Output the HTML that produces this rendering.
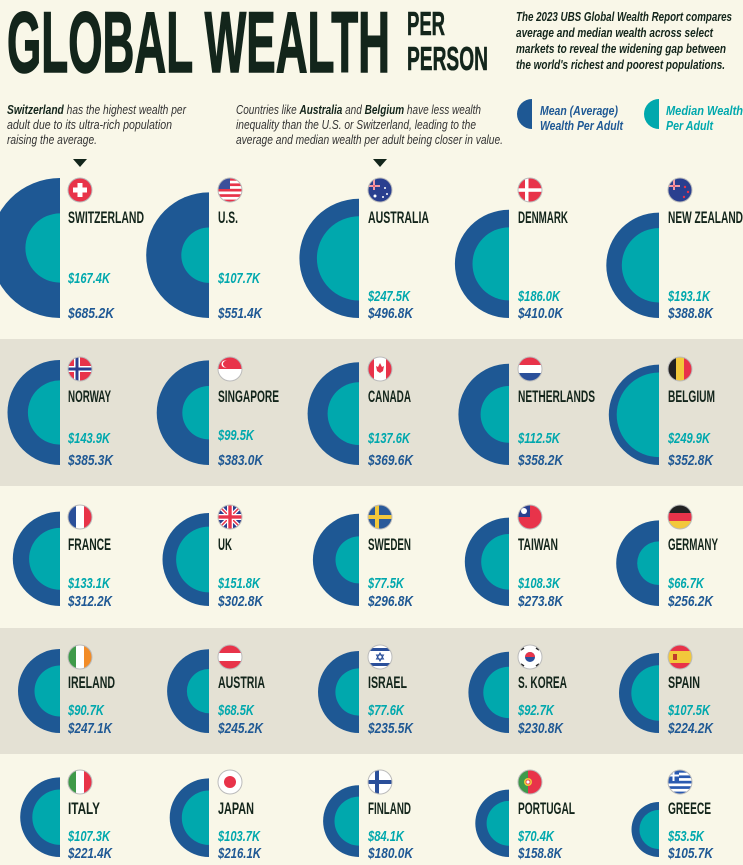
<!DOCTYPE html>
<html><head><meta charset="utf-8"><style>
html,body{margin:0;padding:0;background:#f9f7e8;}
svg{display:block;}
text{font-family:"Liberation Sans",sans-serif;}
.n{font-weight:bold;font-size:17px;fill:#13251b;}
.m{font-weight:bold;font-style:italic;font-size:15px;fill:#1e5894;}
.d{font-weight:bold;font-style:italic;font-size:15px;fill:#00a8ad;}
.o{fill:#1e5894;}.i{fill:#00a8ad;}
.fo{fill:none;stroke:#bbb;stroke-width:1;}
</style></head><body>
<svg width="743" height="865" viewBox="0 0 743 865" xmlns="http://www.w3.org/2000/svg">
<defs><clipPath id="f"><circle r="12"/></clipPath></defs>
<rect width="743" height="865" fill="#f9f7e8"/>
<rect y="339" width="743" height="147" fill="#e4e1d4"/>
<rect y="628" width="743" height="126" fill="#e4e1d4"/>

<text x="7" y="72" font-size="86" font-weight="bold" fill="#13251b" stroke="#13251b" stroke-width="1.5" textLength="383" lengthAdjust="spacingAndGlyphs">GLOBAL WEALTH</text>
<text x="407" y="35" font-size="33" font-weight="bold" fill="#13251b" stroke="#13251b" stroke-width="0.6" textLength="38" lengthAdjust="spacingAndGlyphs">PER</text>
<text x="407" y="70" font-size="33" font-weight="bold" fill="#13251b" stroke="#13251b" stroke-width="0.6" textLength="81" lengthAdjust="spacingAndGlyphs">PERSON</text>
<g font-size="13" font-weight="bold" font-style="italic" fill="#13251b">
<text x="516" y="21" textLength="216" lengthAdjust="spacingAndGlyphs">The 2023 UBS Global Wealth Report compares</text>
<text x="516" y="37" textLength="197" lengthAdjust="spacingAndGlyphs">average and median wealth across select</text>
<text x="516" y="53" textLength="210" lengthAdjust="spacingAndGlyphs">markets to reveal the widening gap between</text>
<text x="516" y="69" textLength="209" lengthAdjust="spacingAndGlyphs">the world's richest and poorest populations.</text>
</g>
<g font-size="13" fill="#333" font-style="italic">
<text x="7" y="114" textLength="179" lengthAdjust="spacingAndGlyphs"><tspan font-weight="bold" fill="#13251b">Switzerland</tspan> has the highest wealth per</text>
<text x="7" y="129" textLength="165" lengthAdjust="spacingAndGlyphs">adult due to its ultra-rich population</text>
<text x="7" y="144" textLength="90" lengthAdjust="spacingAndGlyphs">raising the average.</text>
<text x="236" y="114" textLength="245" lengthAdjust="spacingAndGlyphs">Countries like <tspan font-weight="bold" fill="#13251b">Australia</tspan> and <tspan font-weight="bold" fill="#13251b">Belgium</tspan> have less wealth</text>
<text x="236" y="129" textLength="240" lengthAdjust="spacingAndGlyphs">inequality than the U.S. or Switzerland, leading to the</text>
<text x="236" y="144" textLength="267" lengthAdjust="spacingAndGlyphs">average and median wealth per adult being closer in value.</text>
</g>
<path d="M532,99 A15,15 0 0 0 532,129 Z" class="o"/>
<path d="M659,99 A15,15 0 0 0 659,129 Z" class="i"/>
<g font-size="13" font-weight="bold" font-style="italic">
<text x="540" y="115" fill="#1e5894" textLength="78" lengthAdjust="spacingAndGlyphs">Mean (Average)</text>
<text x="540" y="130" fill="#1e5894" textLength="83" lengthAdjust="spacingAndGlyphs">Wealth Per Adult</text>
<text x="666" y="115" fill="#00a8ad" textLength="77" lengthAdjust="spacingAndGlyphs">Median Wealth</text>
<text x="666" y="130" fill="#00a8ad" textLength="47" lengthAdjust="spacingAndGlyphs">Per Adult</text>
</g>
<path d="M73,159 L87,159 L80,167 Z" fill="#13251b"/>
<path d="M373,159 L387,159 L380,167 Z" fill="#13251b"/>

<g transform="translate(60,318)"><path class="o" d="M0,-140 A70,70 0 0 0 0,0 Z"/><path class="i" d="M0,-104.6 A34.6,34.6 0 0 0 0,-35.4 Z"/></g>
<g transform="translate(209,318)"><path class="o" d="M0,-125.6 A62.8,62.8 0 0 0 0,0 Z"/><path class="i" d="M0,-90.5 A27.7,27.7 0 0 0 0,-35.1 Z"/></g>
<g transform="translate(359,318)"><path class="o" d="M0,-119.2 A59.6,59.6 0 0 0 0,0 Z"/><path class="i" d="M0,-101.7 A42.1,42.1 0 0 0 0,-17.5 Z"/></g>
<g transform="translate(509,318)"><path class="o" d="M0,-108.2 A54.1,54.1 0 0 0 0,0 Z"/><path class="i" d="M0,-90.6 A36.5,36.5 0 0 0 0,-17.6 Z"/></g>
<g transform="translate(659,318)"><path class="o" d="M0,-105.4 A52.7,52.7 0 0 0 0,0 Z"/><path class="i" d="M0,-89.9 A37.2,37.2 0 0 0 0,-15.5 Z"/></g>

<g transform="translate(60,465)"><path class="o" d="M0,-105 A52.5,52.5 0 0 0 0,0 Z"/><path class="i" d="M0,-84.6 A32.1,32.1 0 0 0 0,-20.4 Z"/></g>
<g transform="translate(209,465)"><path class="o" d="M0,-104.6 A52.3,52.3 0 0 0 0,0 Z"/><path class="i" d="M0,-79 A26.7,26.7 0 0 0 0,-25.6 Z"/></g>
<g transform="translate(359,465)"><path class="o" d="M0,-102.8 A51.4,51.4 0 0 0 0,0 Z"/><path class="i" d="M0,-82.8 A31.4,31.4 0 0 0 0,-20 Z"/></g>
<g transform="translate(509,465)"><path class="o" d="M0,-101.2 A50.6,50.6 0 0 0 0,0 Z"/><path class="i" d="M0,-79 A28.4,28.4 0 0 0 0,-22.2 Z"/></g>
<g transform="translate(659,465)"><path class="o" d="M0,-100.4 A50.2,50.2 0 0 0 0,0 Z"/><path class="i" d="M0,-92.5 A42.3,42.3 0 0 0 0,-7.9 Z"/></g>

<g transform="translate(60,606)"><path class="o" d="M0,-94.4 A47.2,47.2 0 0 0 0,0 Z"/><path class="i" d="M0,-78.1 A30.9,30.9 0 0 0 0,-16.3 Z"/></g>
<g transform="translate(209,606)"><path class="o" d="M0,-93 A46.5,46.5 0 0 0 0,0 Z"/><path class="i" d="M0,-79.4 A32.9,32.9 0 0 0 0,-13.6 Z"/></g>
<g transform="translate(359,606)"><path class="o" d="M0,-92.2 A46.1,46.1 0 0 0 0,0 Z"/><path class="i" d="M0,-69.6 A23.5,23.5 0 0 0 0,-22.6 Z"/></g>
<g transform="translate(509,606)"><path class="o" d="M0,-88.4 A44.2,44.2 0 0 0 0,0 Z"/><path class="i" d="M0,-72 A27.8,27.8 0 0 0 0,-16.4 Z"/></g>
<g transform="translate(659,606)"><path class="o" d="M0,-85.6 A42.8,42.8 0 0 0 0,0 Z"/><path class="i" d="M0,-64.6 A21.8,21.8 0 0 0 0,-21 Z"/></g>

<g transform="translate(60,733)"><path class="o" d="M0,-84 A42,42 0 0 0 0,0 Z"/><path class="i" d="M0,-67.5 A25.5,25.5 0 0 0 0,-16.5 Z"/></g>
<g transform="translate(209,733)"><path class="o" d="M0,-83.8 A41.9,41.9 0 0 0 0,0 Z"/><path class="i" d="M0,-64 A22.1,22.1 0 0 0 0,-19.8 Z"/></g>
<g transform="translate(359,733)"><path class="o" d="M0,-82 A41,41 0 0 0 0,0 Z"/><path class="i" d="M0,-64.6 A23.6,23.6 0 0 0 0,-17.4 Z"/></g>
<g transform="translate(509,733)"><path class="o" d="M0,-81.2 A40.6,40.6 0 0 0 0,0 Z"/><path class="i" d="M0,-66.3 A25.7,25.7 0 0 0 0,-14.9 Z"/></g>
<g transform="translate(659,733)"><path class="o" d="M0,-80 A40,40 0 0 0 0,0 Z"/><path class="i" d="M0,-67.7 A27.7,27.7 0 0 0 0,-12.3 Z"/></g>

<g transform="translate(60,857)"><path class="o" d="M0,-79.6 A39.8,39.8 0 0 0 0,0 Z"/><path class="i" d="M0,-67.5 A27.7,27.7 0 0 0 0,-12.1 Z"/></g>
<g transform="translate(209,857)"><path class="o" d="M0,-78.6 A39.3,39.3 0 0 0 0,0 Z"/><path class="i" d="M0,-66.5 A27.2,27.2 0 0 0 0,-12.1 Z"/></g>
<g transform="translate(359,857)"><path class="o" d="M0,-71.8 A35.9,35.9 0 0 0 0,0 Z"/><path class="i" d="M0,-60.4 A24.5,24.5 0 0 0 0,-11.4 Z"/></g>
<g transform="translate(509,857)"><path class="o" d="M0,-67.4 A33.7,33.7 0 0 0 0,0 Z"/><path class="i" d="M0,-56.1 A22.4,22.4 0 0 0 0,-11.3 Z"/></g>
<g transform="translate(659,857)"><path class="o" d="M0,-55 A27.5,27.5 0 0 0 0,0 Z"/><path class="i" d="M0,-47.1 A19.6,19.6 0 0 0 0,-7.9 Z"/></g>

<g transform="translate(80,190)"><g clip-path="url(#f)"><rect x="-12" y="-12" width="24" height="24" fill="#e8334a"/><rect x="-2.5" y="-7" width="5" height="14" fill="#fff"/><rect x="-7" y="-2.5" width="14" height="5" fill="#fff"/></g><circle r="12" class="fo"/></g>
<g transform="translate(230,190)"><g clip-path="url(#f)"><rect x="-12" y="-12" width="24" height="24" fill="#fff"/><rect x="-12" y="-12" width="24" height="2.7" fill="#e8334a"/><rect x="-12" y="-6.6" width="24" height="2.7" fill="#e8334a"/><rect x="-12" y="-1.2" width="24" height="2.7" fill="#e8334a"/><rect x="-12" y="4.2" width="24" height="2.7" fill="#e8334a"/><rect x="-12" y="9.6" width="24" height="2.7" fill="#e8334a"/><rect x="-12" y="-12" width="12" height="11" fill="#3c4f9a"/></g><circle r="12" class="fo"/></g>
<g transform="translate(380,190)"><g clip-path="url(#f)"><rect x="-12" y="-12" width="24" height="24" fill="#2a3f8f"/><rect x="-12" y="-5" width="12" height="2" fill="#fff"/><rect x="-7" y="-12" width="2" height="12" fill="#fff"/><rect x="-12" y="-4.5" width="12" height="1" fill="#e8334a"/><rect x="-6.5" y="-12" width="1" height="12" fill="#e8334a"/><circle cx="5" cy="-2" r="1" fill="#fff"/><circle cx="7" cy="4" r="1" fill="#fff"/><circle cx="3" cy="7" r="1" fill="#fff"/><circle cx="-5" cy="6" r="1.5" fill="#fff"/></g><circle r="12" class="fo"/></g>
<g transform="translate(530,190)"><g clip-path="url(#f)"><rect x="-12" y="-12" width="24" height="24" fill="#e8334a"/><rect x="-5" y="-12" width="3.5" height="24" fill="#fff"/><rect x="-12" y="-1.7" width="24" height="3.5" fill="#fff"/></g><circle r="12" class="fo"/></g>
<g transform="translate(680,190)"><g clip-path="url(#f)"><rect x="-12" y="-12" width="24" height="24" fill="#2a3f8f"/><rect x="-12" y="-5" width="12" height="2" fill="#fff"/><rect x="-7" y="-12" width="2" height="12" fill="#fff"/><rect x="-12" y="-4.5" width="12" height="1" fill="#e8334a"/><rect x="-6.5" y="-12" width="1" height="12" fill="#e8334a"/><circle cx="5" cy="-3" r="1.2" fill="#e8334a"/><circle cx="8" cy="2" r="1.2" fill="#e8334a"/><circle cx="4" cy="7" r="1.2" fill="#e8334a"/></g><circle r="12" class="fo"/></g>

<g transform="translate(80,369)"><g clip-path="url(#f)"><rect x="-12" y="-12" width="24" height="24" fill="#e8334a"/><rect x="-6" y="-12" width="6" height="24" fill="#fff"/><rect x="-12" y="-3" width="24" height="6" fill="#fff"/><rect x="-4.5" y="-12" width="3" height="24" fill="#2a3f8f"/><rect x="-12" y="-1.5" width="24" height="3" fill="#2a3f8f"/></g><circle r="12" class="fo"/></g>
<g transform="translate(230,369)"><g clip-path="url(#f)"><rect x="-12" y="-12" width="24" height="24" fill="#fff"/><rect x="-12" y="-12" width="24" height="12" fill="#e8334a"/><circle cx="-5" cy="-5" r="3.5" fill="#fff"/><circle cx="-3.8" cy="-5" r="3.2" fill="#e8334a"/></g><circle r="12" class="fo"/></g>
<g transform="translate(380,369)"><g clip-path="url(#f)"><rect x="-12" y="-12" width="24" height="24" fill="#fff"/><rect x="-12" y="-12" width="6" height="24" fill="#e8334a"/><rect x="6" y="-12" width="6" height="24" fill="#e8334a"/><path d="M0,-6 L2,-2 L4,-3 L3,2 L0,4 L-3,2 L-4,-3 L-2,-2 Z" fill="#e8334a"/></g><circle r="12" class="fo"/></g>
<g transform="translate(530,369)"><g clip-path="url(#f)"><rect x="-12" y="-12" width="24" height="8" fill="#e8334a"/><rect x="-12" y="-4" width="24" height="8" fill="#fff"/><rect x="-12" y="4" width="24" height="8" fill="#2a4f9a"/></g><circle r="12" class="fo"/></g>
<g transform="translate(680,369)"><g clip-path="url(#f)"><rect x="-12" y="-12" width="8" height="24" fill="#222"/><rect x="-4" y="-12" width="8" height="24" fill="#f2c83b"/><rect x="4" y="-12" width="8" height="24" fill="#e8334a"/></g><circle r="12" class="fo"/></g>

<g transform="translate(80,517)"><g clip-path="url(#f)"><rect x="-12" y="-12" width="8" height="24" fill="#2a4f9a"/><rect x="-4" y="-12" width="8" height="24" fill="#fff"/><rect x="4" y="-12" width="8" height="24" fill="#e8334a"/></g><circle r="12" class="fo"/></g>
<g transform="translate(230,517)"><g clip-path="url(#f)"><rect x="-12" y="-12" width="24" height="24" fill="#2a3f8f"/><path d="M-12,-12 L12,12 M12,-12 L-12,12" stroke="#fff" stroke-width="4"/><path d="M-12,-12 L12,12 M12,-12 L-12,12" stroke="#e8334a" stroke-width="1.5"/><rect x="-3" y="-12" width="6" height="24" fill="#fff"/><rect x="-12" y="-3" width="24" height="6" fill="#fff"/><rect x="-1.7" y="-12" width="3.4" height="24" fill="#e8334a"/><rect x="-12" y="-1.7" width="24" height="3.4" fill="#e8334a"/></g><circle r="12" class="fo"/></g>
<g transform="translate(380,517)"><g clip-path="url(#f)"><rect x="-12" y="-12" width="24" height="24" fill="#2a5a9a"/><rect x="-5" y="-12" width="4" height="24" fill="#f2c83b"/><rect x="-12" y="-2" width="24" height="4" fill="#f2c83b"/></g><circle r="12" class="fo"/></g>
<g transform="translate(530,517)"><g clip-path="url(#f)"><rect x="-12" y="-12" width="24" height="24" fill="#e8334a"/><rect x="-12" y="-12" width="12" height="12" fill="#2a3f8f"/><circle cx="-6" cy="-6" r="3" fill="#fff"/></g><circle r="12" class="fo"/></g>
<g transform="translate(680,517)"><g clip-path="url(#f)"><rect x="-12" y="-12" width="24" height="8" fill="#222"/><rect x="-12" y="-4" width="24" height="8" fill="#e8334a"/><rect x="-12" y="4" width="24" height="8" fill="#f2c83b"/></g><circle r="12" class="fo"/></g>

<g transform="translate(80,657)"><g clip-path="url(#f)"><rect x="-12" y="-12" width="8" height="24" fill="#3f9a4a"/><rect x="-4" y="-12" width="8" height="24" fill="#fff"/><rect x="4" y="-12" width="8" height="24" fill="#f28c28"/></g><circle r="12" class="fo"/></g>
<g transform="translate(230,657)"><g clip-path="url(#f)"><rect x="-12" y="-12" width="24" height="24" fill="#e8334a"/><rect x="-12" y="-4" width="24" height="8" fill="#fff"/></g><circle r="12" class="fo"/></g>
<g transform="translate(380,657)"><g clip-path="url(#f)"><rect x="-12" y="-12" width="24" height="24" fill="#fff"/><rect x="-12" y="-9" width="24" height="3" fill="#2a4f9a"/><rect x="-12" y="6" width="24" height="3" fill="#2a4f9a"/><path d="M0,-4 L3.5,2 L-3.5,2 Z M0,4 L3.5,-2 L-3.5,-2 Z" fill="none" stroke="#2a4f9a" stroke-width="1"/></g><circle r="12" class="fo"/></g>
<g transform="translate(530,657)"><g clip-path="url(#f)"><rect x="-12" y="-12" width="24" height="24" fill="#fff"/><circle r="5" fill="#2a4f9a"/><path d="M-5,0 A5,5 0 0 1 5,0 Z" fill="#e8334a"/><path d="M-9,-7 L-6,-9 M-9,7 L-6,9 M9,-7 L6,-9 M9,7 L6,9" stroke="#222" stroke-width="1.5"/></g><circle r="12" class="fo"/></g>
<g transform="translate(680,657)"><g clip-path="url(#f)"><rect x="-12" y="-12" width="24" height="24" fill="#e8334a"/><rect x="-12" y="-6" width="24" height="12" fill="#f2c83b"/><rect x="-7" y="-3" width="4" height="6" fill="#c0392b"/></g><circle r="12" class="fo"/></g>

<g transform="translate(80,782)"><g clip-path="url(#f)"><rect x="-12" y="-12" width="8" height="24" fill="#3f9a4a"/><rect x="-4" y="-12" width="8" height="24" fill="#fff"/><rect x="4" y="-12" width="8" height="24" fill="#e8334a"/></g><circle r="12" class="fo"/></g>
<g transform="translate(230,782)"><g clip-path="url(#f)"><rect x="-12" y="-12" width="24" height="24" fill="#fff"/><circle r="6" fill="#e8334a"/></g><circle r="12" class="fo"/></g>
<g transform="translate(380,782)"><g clip-path="url(#f)"><rect x="-12" y="-12" width="24" height="24" fill="#fff"/><rect x="-5" y="-12" width="4" height="24" fill="#2a4f9a"/><rect x="-12" y="-2" width="24" height="4" fill="#2a4f9a"/></g><circle r="12" class="fo"/></g>
<g transform="translate(530,782)"><g clip-path="url(#f)"><rect x="-12" y="-12" width="24" height="24" fill="#e8334a"/><rect x="-12" y="-12" width="10" height="24" fill="#3f9a4a"/><circle cx="-2" cy="0" r="4" fill="#f2c83b"/><circle cx="-2" cy="0" r="2" fill="#fff" stroke="#e8334a" stroke-width="0.8"/></g><circle r="12" class="fo"/></g>
<g transform="translate(680,782)"><g clip-path="url(#f)"><rect x="-12" y="-12" width="24" height="24" fill="#fff"/><rect x="-12" y="-12" width="24" height="2.7" fill="#2a5ab0"/><rect x="-12" y="-6.6" width="24" height="2.7" fill="#2a5ab0"/><rect x="-12" y="-1.2" width="24" height="2.7" fill="#2a5ab0"/><rect x="-12" y="4.2" width="24" height="2.7" fill="#2a5ab0"/><rect x="-12" y="9.6" width="24" height="2.7" fill="#2a5ab0"/><rect x="-12" y="-12" width="11" height="11" fill="#2a5ab0"/><rect x="-7.5" y="-12" width="2" height="11" fill="#fff"/><rect x="-12" y="-7.5" width="11" height="2" fill="#fff"/></g><circle r="12" class="fo"/></g>

<g class="n">
<text x="68" y="223" textLength="76" lengthAdjust="spacingAndGlyphs">SWITZERLAND</text>
<text x="218" y="223" textLength="20" lengthAdjust="spacingAndGlyphs">U.S.</text>
<text x="368" y="223" textLength="61" lengthAdjust="spacingAndGlyphs">AUSTRALIA</text>
<text x="518" y="223" textLength="50" lengthAdjust="spacingAndGlyphs">DENMARK</text>
<text x="668" y="223" textLength="75" lengthAdjust="spacingAndGlyphs">NEW ZEALAND</text>
<text x="68" y="402" textLength="43" lengthAdjust="spacingAndGlyphs">NORWAY</text>
<text x="218" y="402" textLength="61" lengthAdjust="spacingAndGlyphs">SINGAPORE</text>
<text x="368" y="402" textLength="43" lengthAdjust="spacingAndGlyphs">CANADA</text>
<text x="518" y="402" textLength="77" lengthAdjust="spacingAndGlyphs">NETHERLANDS</text>
<text x="668" y="402" textLength="47" lengthAdjust="spacingAndGlyphs">BELGIUM</text>
<text x="68" y="550" textLength="43" lengthAdjust="spacingAndGlyphs">FRANCE</text>
<text x="218" y="550" textLength="14" lengthAdjust="spacingAndGlyphs">UK</text>
<text x="368" y="550" textLength="43" lengthAdjust="spacingAndGlyphs">SWEDEN</text>
<text x="518" y="550" textLength="40" lengthAdjust="spacingAndGlyphs">TAIWAN</text>
<text x="668" y="550" textLength="50" lengthAdjust="spacingAndGlyphs">GERMANY</text>
<text x="68" y="688" textLength="47" lengthAdjust="spacingAndGlyphs">IRELAND</text>
<text x="218" y="688" textLength="47" lengthAdjust="spacingAndGlyphs">AUSTRIA</text>
<text x="368" y="688" textLength="39" lengthAdjust="spacingAndGlyphs">ISRAEL</text>
<text x="518" y="688" textLength="49" lengthAdjust="spacingAndGlyphs">S. KOREA</text>
<text x="668" y="688" textLength="32" lengthAdjust="spacingAndGlyphs">SPAIN</text>
<text x="68" y="814" textLength="32" lengthAdjust="spacingAndGlyphs">ITALY</text>
<text x="218" y="814" textLength="36" lengthAdjust="spacingAndGlyphs">JAPAN</text>
<text x="368" y="814" textLength="43" lengthAdjust="spacingAndGlyphs">FINLAND</text>
<text x="518" y="814" textLength="57" lengthAdjust="spacingAndGlyphs">PORTUGAL</text>
<text x="668" y="814" textLength="43" lengthAdjust="spacingAndGlyphs">GREECE</text>
</g>

<g class="d">
<text x="68" y="283" textLength="42" lengthAdjust="spacingAndGlyphs">$167.4K</text>
<text x="218" y="283" textLength="42" lengthAdjust="spacingAndGlyphs">$107.7K</text>
<text x="368" y="301" textLength="42" lengthAdjust="spacingAndGlyphs">$247.5K</text>
<text x="518" y="301" textLength="42" lengthAdjust="spacingAndGlyphs">$186.0K</text>
<text x="668" y="301" textLength="42" lengthAdjust="spacingAndGlyphs">$193.1K</text>
<text x="68" y="443" textLength="42" lengthAdjust="spacingAndGlyphs">$143.9K</text>
<text x="218" y="440" textLength="36" lengthAdjust="spacingAndGlyphs">$99.5K</text>
<text x="368" y="443" textLength="42" lengthAdjust="spacingAndGlyphs">$137.6K</text>
<text x="518" y="443" textLength="42" lengthAdjust="spacingAndGlyphs">$112.5K</text>
<text x="668" y="443" textLength="42" lengthAdjust="spacingAndGlyphs">$249.9K</text>
<text x="68" y="588" textLength="42" lengthAdjust="spacingAndGlyphs">$133.1K</text>
<text x="218" y="588" textLength="42" lengthAdjust="spacingAndGlyphs">$151.8K</text>
<text x="368" y="588" textLength="36" lengthAdjust="spacingAndGlyphs">$77.5K</text>
<text x="518" y="588" textLength="42" lengthAdjust="spacingAndGlyphs">$108.3K</text>
<text x="668" y="588" textLength="36" lengthAdjust="spacingAndGlyphs">$66.7K</text>
<text x="68" y="715" textLength="36" lengthAdjust="spacingAndGlyphs">$90.7K</text>
<text x="218" y="715" textLength="36" lengthAdjust="spacingAndGlyphs">$68.5K</text>
<text x="368" y="715" textLength="36" lengthAdjust="spacingAndGlyphs">$77.6K</text>
<text x="518" y="715" textLength="36" lengthAdjust="spacingAndGlyphs">$92.7K</text>
<text x="668" y="715" textLength="42" lengthAdjust="spacingAndGlyphs">$107.5K</text>
<text x="68" y="841" textLength="42" lengthAdjust="spacingAndGlyphs">$107.3K</text>
<text x="218" y="841" textLength="42" lengthAdjust="spacingAndGlyphs">$103.7K</text>
<text x="368" y="841" textLength="36" lengthAdjust="spacingAndGlyphs">$84.1K</text>
<text x="518" y="841" textLength="36" lengthAdjust="spacingAndGlyphs">$70.4K</text>
<text x="668" y="841" textLength="36" lengthAdjust="spacingAndGlyphs">$53.5K</text>
</g>

<g class="m">
<text x="68" y="318" textLength="46" lengthAdjust="spacingAndGlyphs">$685.2K</text>
<text x="218" y="318" textLength="44" lengthAdjust="spacingAndGlyphs">$551.4K</text>
<text x="368" y="318" textLength="45" lengthAdjust="spacingAndGlyphs">$496.8K</text>
<text x="518" y="318" textLength="45" lengthAdjust="spacingAndGlyphs">$410.0K</text>
<text x="668" y="318" textLength="45" lengthAdjust="spacingAndGlyphs">$388.8K</text>
<text x="68" y="465" textLength="45" lengthAdjust="spacingAndGlyphs">$385.3K</text>
<text x="218" y="465" textLength="45" lengthAdjust="spacingAndGlyphs">$383.0K</text>
<text x="368" y="465" textLength="45" lengthAdjust="spacingAndGlyphs">$369.6K</text>
<text x="518" y="465" textLength="45" lengthAdjust="spacingAndGlyphs">$358.2K</text>
<text x="668" y="465" textLength="45" lengthAdjust="spacingAndGlyphs">$352.8K</text>
<text x="68" y="606" textLength="44" lengthAdjust="spacingAndGlyphs">$312.2K</text>
<text x="218" y="606" textLength="45" lengthAdjust="spacingAndGlyphs">$302.8K</text>
<text x="368" y="606" textLength="45" lengthAdjust="spacingAndGlyphs">$296.8K</text>
<text x="518" y="606" textLength="45" lengthAdjust="spacingAndGlyphs">$273.8K</text>
<text x="668" y="606" textLength="45" lengthAdjust="spacingAndGlyphs">$256.2K</text>
<text x="68" y="733" textLength="44" lengthAdjust="spacingAndGlyphs">$247.1K</text>
<text x="218" y="733" textLength="45" lengthAdjust="spacingAndGlyphs">$245.2K</text>
<text x="368" y="733" textLength="45" lengthAdjust="spacingAndGlyphs">$235.5K</text>
<text x="518" y="733" textLength="45" lengthAdjust="spacingAndGlyphs">$230.8K</text>
<text x="668" y="733" textLength="45" lengthAdjust="spacingAndGlyphs">$224.2K</text>
<text x="68" y="858" textLength="44" lengthAdjust="spacingAndGlyphs">$221.4K</text>
<text x="218" y="858" textLength="43" lengthAdjust="spacingAndGlyphs">$216.1K</text>
<text x="368" y="858" textLength="45" lengthAdjust="spacingAndGlyphs">$180.0K</text>
<text x="518" y="858" textLength="44" lengthAdjust="spacingAndGlyphs">$158.8K</text>
<text x="668" y="858" textLength="45" lengthAdjust="spacingAndGlyphs">$105.7K</text>
</g>
</svg>
</body></html>
